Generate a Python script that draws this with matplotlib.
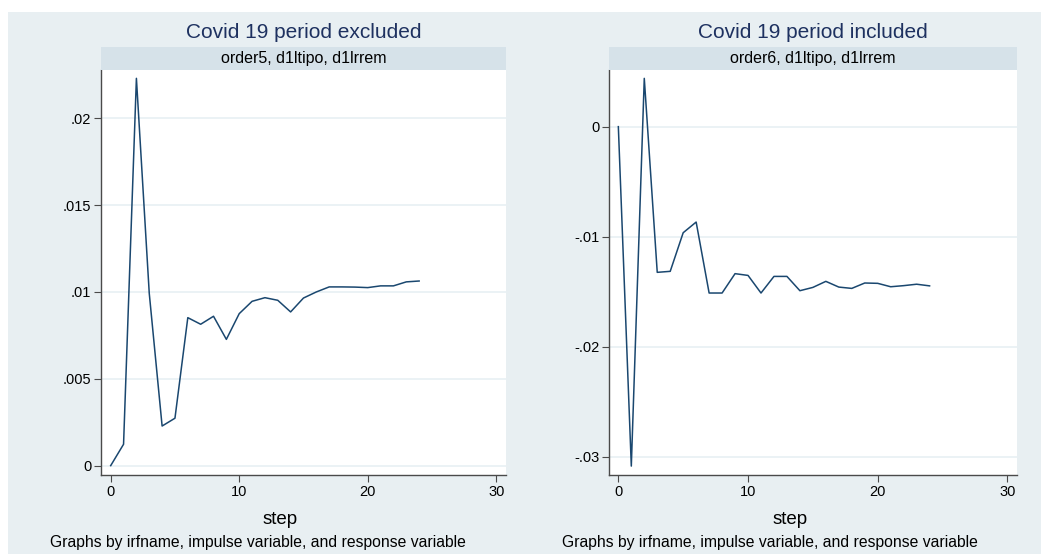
import matplotlib
matplotlib.use("Agg")
import matplotlib.pyplot as plt
from matplotlib.patches import Rectangle

plt.rcParams['font.family'] = ['Liberation Sans', 'DejaVu Sans']

# Impulse-response function values by step
steps = list(range(25))
irf_excluded = [0.0, 0.00123, 0.0223, 0.00992, 0.00228, 0.00273, 0.00852, 0.00814,
                0.0086, 0.00727, 0.00875, 0.00946, 0.00967, 0.00952, 0.00885,
                0.00965, 0.0100, 0.01029, 0.01029, 0.01028, 0.01025, 0.01035,
                0.01035, 0.01058, 0.01063]
irf_included = [0.0, -0.03085, 0.00439, -0.01324, -0.01315, -0.00964, -0.00867,
                -0.01512, -0.01512, -0.01336, -0.01352, -0.01512, -0.01361,
                -0.01361, -0.01491, -0.01461, -0.01406, -0.01458, -0.0147,
                -0.01421, -0.01424, -0.01455, -0.01445, -0.01432, -0.01447]

titles = ["Covid 19 period excluded", "Covid 19 period included"]
strips = ["order5, d1ltipo, d1lrrem", "order6, d1ltipo, d1lrrem"]
yticks_ex = [0, 0.005, 0.01, 0.015, 0.02]
yticklabels_ex = ["0", ".005", ".01", ".015", ".02"]
yticks_in = [-0.03, -0.02, -0.01, 0]
yticklabels_in = ["-.03", "-.02", "-.01", "0"]
xticks = [0, 10, 20, 30]
xlabel = "step"
note = "Graphs by irfname, impulse variable, and response variable"

W, H = 1048, 554
BG = "#e8eff2"
STRIP = "#d6e2e9"
LINE = "#1a476f"
TITLE_C = "#1e3160"
GRID = "#e8f0f3"
AXC = "#4a4a4a"

fig = plt.figure(figsize=(W / 100, H / 100), dpi=100)
fig.patch.set_facecolor("white")

def fx(px):
    return px / W

def fy(py):
    return 1 - py / H

# outer graph region
fig.add_artist(Rectangle((fx(8), fy(554)), fx(1041) - fx(8), fy(12) - fy(554),
                         transform=fig.transFigure, facecolor=BG, edgecolor="none", zorder=0))

panels = [
    dict(x0=101, x1=506, y=irf_excluded, yt=yticks_ex, ytl=yticklabels_ex,
         ylim=(-0.00054, 0.02278), xlim=(-0.755, 30.76), step_x=280, note_x=258),
    dict(x0=609, x1=1017, y=irf_included, yt=yticks_in, ytl=yticklabels_in,
         ylim=(-0.03166, 0.00515), xlim=(-0.72, 30.74), step_x=790, note_x=770),
]

top, bot = 70, 475
for i, p in enumerate(panels):
    ax = fig.add_axes([fx(p["x0"]), fy(bot), fx(p["x1"]) - fx(p["x0"]), fy(top) - fy(bot)])
    ax.set_facecolor("white")
    ax.plot(steps, p["y"], color=LINE, lw=1.1, zorder=3)
    ax.set_xlim(*p["xlim"])
    ax.set_ylim(*p["ylim"])
    ax.set_xticks(xticks)
    ax.set_xticklabels([str(t) for t in xticks])
    ax.set_yticks(p["yt"])
    ax.set_yticklabels(p["ytl"])
    ax.grid(axis="y", color=GRID, lw=1.2, zorder=1)
    ax.tick_params(axis="both", labelsize=10.5, length=5, width=0.8, color=AXC,
                   labelcolor="black", pad=2)
    ax.tick_params(axis="y", labelrotation=0)
    for s in ["top", "right"]:
        ax.spines[s].set_visible(False)
    for s in ["left", "bottom"]:
        ax.spines[s].set_color(AXC)
        ax.spines[s].set_linewidth(1.0)

    # strip header
    fig.add_artist(Rectangle((fx(p["x0"]), fy(70)), fx(p["x1"]) - fx(p["x0"]), fy(47) - fy(70),
                             transform=fig.transFigure, facecolor=STRIP, edgecolor="none", zorder=1))
    cx = (p["x0"] + p["x1"]) / 2
    fig.text(fx(cx), fy(58.5), strips[i], ha="center", va="center", fontsize=11.5, color="black")
    fig.text(fx(cx), fy(32), titles[i], ha="center", va="center", fontsize=15, color=TITLE_C)
    fig.text(fx(p["step_x"]), fy(520), xlabel, ha="center", va="center", fontsize=13.5, color="black")
    fig.text(fx(p["note_x"]), fy(542), note, ha="center", va="center", fontsize=11.3, color="black")

fig.savefig("out.png", dpi=100, facecolor="white")
